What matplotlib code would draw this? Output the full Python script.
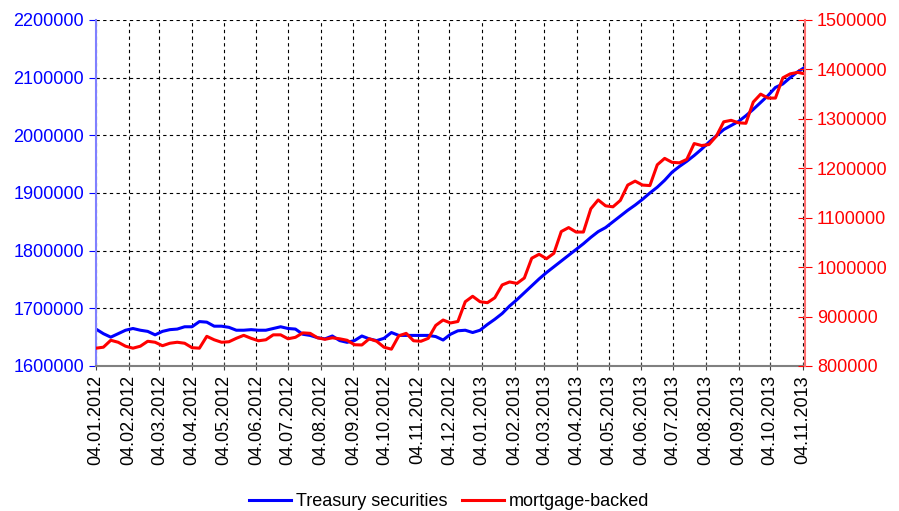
import numpy as np
import pandas as pd
import matplotlib
matplotlib.use('Agg')
import matplotlib.pyplot as plt
import matplotlib.dates as mdates
from matplotlib.ticker import FuncFormatter

plt.rcParams['font.family'] = ['Liberation Sans', 'DejaVu Sans']

# weekly values, Wednesdays 04.01.2012 .. 06.11.2013
dates = pd.date_range('2012-01-04', periods=97, freq='7D')

treasury = [
    1664000, 1656000, 1650000, 1656000, 1662000, 1665000, 1662000, 1660000, 1654000, 1660000,
    1663000, 1664000, 1668000, 1668000, 1677000, 1676000, 1669000, 1669000, 1667000, 1662000,
    1662000, 1663000, 1662000, 1662000, 1665000, 1668000, 1665000, 1664000, 1655000, 1653000,
    1649000, 1647000, 1652000, 1644000, 1641000, 1644000, 1652000, 1647000, 1644000, 1648000,
    1658000, 1653000, 1653000, 1653000, 1653000, 1653000, 1651000, 1645000, 1655000, 1661000,
    1662000, 1658000, 1662000, 1672000, 1681000, 1691000, 1704000, 1715000, 1727000, 1739000,
    1751000, 1762000, 1772000, 1782000, 1792000, 1802000, 1812000, 1823000, 1833000, 1840000,
    1850000, 1860000, 1870000, 1879000, 1889000, 1900000, 1910000, 1922000, 1936000, 1946000,
    1955000, 1965000, 1976000, 1988000, 1999000, 2010000, 2017000, 2024000, 2034000, 2045000,
    2057000, 2069000, 2083000, 2089000, 2100000, 2110000, 2118000,
]

mortgage = [
    836000, 838000, 852000, 848000, 840000, 836000, 840000, 850000, 848000, 841000,
    846000, 848000, 846000, 837000, 836000, 860000, 853000, 848000, 849000, 856000,
    862000, 856000, 851000, 853000, 863000, 863000, 855000, 858000, 867000, 866000,
    857000, 854000, 857000, 855000, 852000, 843000, 842500, 855000, 850000, 838000,
    834000, 861000, 866000, 851000, 850000, 856000, 882000, 893000, 887000, 890000,
    930000, 941000, 930000, 928000, 938000, 964000, 970000, 967000, 978000, 1018000,
    1026000, 1017000, 1028000, 1072000, 1080000, 1071000, 1071000, 1118000, 1136000, 1124000,
    1122000, 1135000, 1166000, 1174000, 1166000, 1165000, 1207000, 1220000, 1212000, 1211000,
    1218000, 1250000, 1246000, 1248000, 1265000, 1294000, 1297000, 1292000, 1291000, 1334000,
    1350000, 1342000, 1342000, 1383000, 1391000, 1394000, 1391000,
]

tick_dates = pd.date_range('2012-01-01', '2013-11-01', freq='MS') + pd.Timedelta(days=3)

fig = plt.figure(figsize=(8.99, 5.11), dpi=100)
ax = fig.add_axes([0.1068, 0.2838, 0.7886, 0.6771])
ax2 = ax.twinx()

l1, = ax.plot(dates, treasury, color='#0000ff', lw=2.2, label='Treasury securities')
l2, = ax2.plot(dates, mortgage, color='#ff0000', lw=2.2, label='mortgage-backed')

ax.set_xlim(dates[0], dates[-1])
ax.set_ylim(1600000, 2200000)
ax2.set_ylim(800000, 1500000)
ax.set_yticks(np.arange(1600000, 2200001, 100000))
ax2.set_yticks(np.arange(800000, 1500001, 100000))

plain = FuncFormatter(lambda v, p: '%d' % v)
ax.yaxis.set_major_formatter(plain)
ax2.yaxis.set_major_formatter(plain)

ax.set_xticks(tick_dates)
ax.xaxis.set_major_formatter(mdates.DateFormatter('%d.%m.%Y'))
for lab in ax.get_xticklabels():
    lab.set_rotation(90)

ax.grid(True, color='black', ls=(0, (3, 3)), lw=0.8)

ax.tick_params(axis='y', colors='#0000ff', labelsize=13, length=5, direction='out')
ax2.tick_params(axis='y', colors='#ff0000', labelsize=13, length=10, direction='inout')
ax.tick_params(axis='x', labelsize=13, length=6, direction='inout', color='#404040')

for a in (ax, ax2):
    a.spines['top'].set_visible(False)
ax.spines['right'].set_visible(False)
ax2.spines['left'].set_visible(False)
ax2.spines['bottom'].set_visible(False)
ax.spines['left'].set_color('#8080ff')
ax.spines['left'].set_linewidth(1.5)
ax2.spines['right'].set_color('#ff7070')
ax2.spines['right'].set_linewidth(1.5)
ax.spines['bottom'].set_color('#808080')
ax.spines['bottom'].set_linewidth(1.5)

fig.legend([l1, l2], ['Treasury securities', 'mortgage-backed'], loc='lower center',
           bbox_to_anchor=(0.5, -0.03), ncol=2, frameon=False, fontsize=13,
           handlelength=2.3, handletextpad=0.3, columnspacing=0.8)

fig.savefig('out.png', dpi=100)
